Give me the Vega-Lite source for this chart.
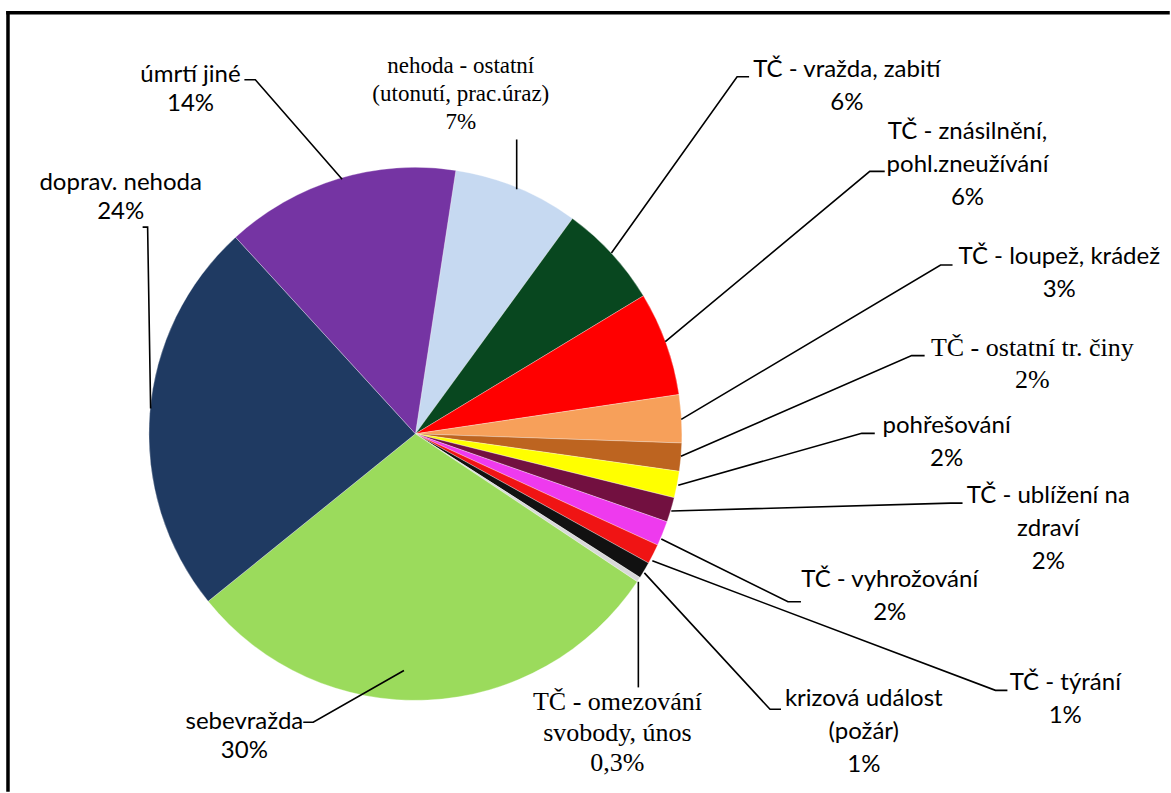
{
  "$schema": "https://vega.github.io/schema/vega-lite/v6.json",
  "autosize": {"type": "fit", "contains": "padding"},
  "width": 1171,
  "height": 793,
  "padding": 0,
  "background": "#ffffff",
  "config": {"view": {"stroke": null}},
  "datasets": {
    "podily": [
      {"kategorie": "nehoda - ostatní (utonutí, prac.úraz)", "podil": 7.6, "poradi": 1},
      {"kategorie": "TČ - vražda, zabití", "podil": 6.3, "poradi": 2},
      {"kategorie": "TČ - znásilnění, pohl.zneužívání", "podil": 6.3, "poradi": 3},
      {"kategorie": "TČ - loupež, krádež", "podil": 2.9, "poradi": 4},
      {"kategorie": "TČ - ostatní tr. činy", "podil": 1.7, "poradi": 5},
      {"kategorie": "pohřešování", "podil": 1.6, "poradi": 6},
      {"kategorie": "TČ - ublížení na zdraví", "podil": 1.5, "poradi": 7},
      {"kategorie": "TČ - vyhrožování", "podil": 1.5, "poradi": 8},
      {"kategorie": "TČ - týrání", "podil": 1.2, "poradi": 9},
      {"kategorie": "krizová událost (požár)", "podil": 1.0, "poradi": 10},
      {"kategorie": "TČ - omezování svobody, únos", "podil": 0.3, "poradi": 11},
      {"kategorie": "sebevražda", "podil": 29.8, "poradi": 12},
      {"kategorie": "doprav. nehoda", "podil": 24.0, "poradi": 13},
      {"kategorie": "úmrtí jiné", "podil": 14.2, "poradi": 14}
    ],
    "popisky": [
      {"kategorie": "úmrtí jiné", "popisek": "úmrtí jiné\n14%", "lx": -84.62, "ly": 135.27},
      {"kategorie": "nehoda - ostatní (utonutí, prac.úraz)", "popisek": "nehoda - ostatní\n(utonutí, prac.úraz)\n7%", "lx": 17.07, "ly": 138.65},
      {"kategorie": "TČ - vražda, zabití", "popisek": "TČ - vražda, zabití\n6%", "lx": 162.29, "ly": 137.15},
      {"kategorie": "TČ - znásilnění, pohl.zneužívání", "popisek": "TČ - znásilnění,\npohl.zneužívání\n6%", "lx": 207.69, "ly": 113.51},
      {"kategorie": "TČ - loupež, krádež", "popisek": "TČ - loupež, krádež\n3%", "lx": 242.21, "ly": 66.6},
      {"kategorie": "TČ - ostatní tr. činy", "popisek": "TČ - ostatní tr. činy\n2%", "lx": 232.08, "ly": 32.35},
      {"kategorie": "pohřešování", "popisek": "pohřešování\n2%", "lx": 199.81, "ly": 3.08},
      {"kategorie": "TČ - ublížení na zdraví", "popisek": "TČ - ublížení na\nzdraví\n2%", "lx": 238.09, "ly": -23.34},
      {"kategorie": "TČ - vyhrožování", "popisek": "TČ - vyhrožování\n2%", "lx": 178.42, "ly": -54.97},
      {"kategorie": "TČ - týrání", "popisek": "TČ - týrání\n1%", "lx": 244.47, "ly": -94.0},
      {"kategorie": "krizová událost (požár)", "popisek": "krizová událost\n(požár)\n1%", "lx": 168.67, "ly": -100.0},
      {"kategorie": "TČ - omezování svobody, únos", "popisek": "TČ - omezování\nsvobody, únos\n0,3%", "lx": 75.99, "ly": -101.13},
      {"kategorie": "sebevražda", "popisek": "sebevražda\n30%", "lx": -64.35, "ly": -108.63},
      {"kategorie": "doprav. nehoda", "popisek": "doprav. nehoda\n24%", "lx": -110.88, "ly": 94.37}
    ],
    "vodici": [
      {"kategorie": "úmrtí jiné", "bod": 1, "lx": -27.58, "ly": 95.87},
      {"kategorie": "úmrtí jiné", "bod": 2, "lx": -60.23, "ly": 133.4},
      {"kategorie": "úmrtí jiné", "bod": 3, "lx": -64.35, "ly": 133.4},
      {"kategorie": "nehoda - ostatní", "bod": 1, "lx": 38.09, "ly": 92.12},
      {"kategorie": "nehoda - ostatní", "bod": 2, "lx": 38.09, "ly": 110.88},
      {"kategorie": "TČ - vražda", "bod": 1, "lx": 73.73, "ly": 68.1},
      {"kategorie": "TČ - vražda", "bod": 2, "lx": 121.01, "ly": 134.52},
      {"kategorie": "TČ - vražda", "bod": 3, "lx": 125.52, "ly": 134.52},
      {"kategorie": "TČ - znásilnění", "bod": 1, "lx": 94.0, "ly": 34.71},
      {"kategorie": "TČ - znásilnění", "bod": 2, "lx": 170.92, "ly": 98.87},
      {"kategorie": "TČ - znásilnění", "bod": 3, "lx": 176.55, "ly": 98.87},
      {"kategorie": "TČ - loupež", "bod": 1, "lx": 100.0, "ly": 5.44},
      {"kategorie": "TČ - loupež", "bod": 2, "lx": 197.56, "ly": 63.6},
      {"kategorie": "TČ - loupež", "bod": 3, "lx": 202.06, "ly": 63.6},
      {"kategorie": "TČ - ostatní tr. činy", "bod": 1, "lx": 99.89, "ly": -8.44},
      {"kategorie": "TČ - ostatní tr. činy", "bod": 2, "lx": 186.68, "ly": 29.46},
      {"kategorie": "TČ - ostatní tr. činy", "bod": 3, "lx": 191.56, "ly": 29.46},
      {"kategorie": "pohřešování", "bod": 1, "lx": 98.87, "ly": -19.32},
      {"kategorie": "pohřešování", "bod": 2, "lx": 167.92, "ly": 0.19},
      {"kategorie": "pohřešování", "bod": 3, "lx": 172.8, "ly": 0.19},
      {"kategorie": "TČ - ublížení", "bod": 1, "lx": 96.25, "ly": -29.08},
      {"kategorie": "TČ - ublížení", "bod": 2, "lx": 201.31, "ly": -26.08},
      {"kategorie": "TČ - ublížení", "bod": 3, "lx": 205.82, "ly": -26.08},
      {"kategorie": "TČ - vyhrožování", "bod": 1, "lx": 92.49, "ly": -39.59},
      {"kategorie": "TČ - vyhrožování", "bod": 2, "lx": 140.15, "ly": -63.23},
      {"kategorie": "TČ - vyhrožování", "bod": 3, "lx": 145.03, "ly": -63.23},
      {"kategorie": "TČ - týrání", "bod": 1, "lx": 89.12, "ly": -47.84},
      {"kategorie": "TČ - týrání", "bod": 2, "lx": 218.2, "ly": -96.62},
      {"kategorie": "TČ - týrání", "bod": 3, "lx": 222.7, "ly": -96.62},
      {"kategorie": "krizová událost", "bod": 1, "lx": 86.12, "ly": -52.35},
      {"kategorie": "krizová událost", "bod": 2, "lx": 133.4, "ly": -103.75},
      {"kategorie": "krizová událost", "bod": 3, "lx": 137.52, "ly": -103.75},
      {"kategorie": "TČ - omezování", "bod": 1, "lx": 83.86, "ly": -55.72},
      {"kategorie": "TČ - omezování", "bod": 2, "lx": 83.86, "ly": -95.5},
      {"kategorie": "sebevražda", "bod": 1, "lx": -4.32, "ly": -89.12},
      {"kategorie": "sebevražda", "bod": 2, "lx": -38.46, "ly": -108.63},
      {"kategorie": "sebevražda", "bod": 3, "lx": -42.21, "ly": -108.63},
      {"kategorie": "doprav. nehoda", "bod": 1, "lx": -99.62, "ly": 9.57},
      {"kategorie": "doprav. nehoda", "bod": 2, "lx": -100.75, "ly": 77.86},
      {"kategorie": "doprav. nehoda", "bod": 3, "lx": -102.63, "ly": 77.86}
    ]
  },
  "layer": [
    {
      "data": {"name": "podily"},
      "mark": {"type": "arc", "outerRadius": 266.5, "stroke": "#ffffff", "strokeWidth": 0.6, "strokeOpacity": 0.5},
      "encoding": {
        "x": {"datum": 0, "type": "quantitative", "scale": {"domain": [-156.285, 283.114], "nice": false, "zero": false}, "axis": null},
        "y": {"datum": 0, "type": "quantitative", "scale": {"domain": [-134.146, 163.415], "nice": false, "zero": false}, "axis": null},
        "theta": {"field": "podil", "type": "quantitative", "stack": true, "scale": {"range": [0.1522, 6.4354]}},
        "order": {"field": "poradi", "type": "quantitative"},
        "color": {
          "field": "kategorie",
          "type": "nominal",
          "legend": null,
          "scale": {
            "domain": ["nehoda - ostatní (utonutí, prac.úraz)", "TČ - vražda, zabití", "TČ - znásilnění, pohl.zneužívání", "TČ - loupež, krádež", "TČ - ostatní tr. činy", "pohřešování", "TČ - ublížení na zdraví", "TČ - vyhrožování", "TČ - týrání", "krizová událost (požár)", "TČ - omezování svobody, únos", "sebevražda", "doprav. nehoda", "úmrtí jiné"],
            "range": ["#c6d9f1", "#08471f", "#ff0000", "#f7a05a", "#bd6420", "#ffff00", "#721040", "#ee3aee", "#f01414", "#111111", "#d9d9d9", "#9bdb5c", "#1f3a62", "#7534a3"]
          }
        }
      }
    },
    {
      "data": {"name": "vodici"},
      "mark": {"type": "line", "color": "#000000", "strokeWidth": 1.6},
      "encoding": {
        "x": {"field": "lx", "type": "quantitative"},
        "y": {"field": "ly", "type": "quantitative"},
        "detail": {"field": "kategorie"},
        "order": {"field": "bod", "type": "quantitative"}
      }
    },
    {
      "data": {"name": "popisky"},
      "transform": [{"filter": {"field": "kategorie", "oneOf": ["úmrtí jiné", "doprav. nehoda", "sebevražda"]}}],
      "mark": {"type": "text", "font": "Lato", "fontSize": 24, "lineHeight": 29, "lineBreak": "\n", "align": "center", "baseline": "middle", "color": "#000000"},
      "encoding": {
        "x": {"field": "lx", "type": "quantitative"},
        "y": {"field": "ly", "type": "quantitative"},
        "text": {"field": "popisek"}
      }
    },
    {
      "data": {"name": "popisky"},
      "transform": [{"filter": {"not": {"field": "kategorie", "oneOf": ["úmrtí jiné", "doprav. nehoda", "sebevražda", "nehoda - ostatní (utonutí, prac.úraz)", "TČ - ostatní tr. činy", "TČ - omezování svobody, únos"]}}}],
      "mark": {"type": "text", "font": "Lato", "fontSize": 24, "lineHeight": 33, "lineBreak": "\n", "align": "center", "baseline": "middle", "color": "#000000"},
      "encoding": {
        "x": {"field": "lx", "type": "quantitative"},
        "y": {"field": "ly", "type": "quantitative"},
        "text": {"field": "popisek"}
      }
    },
    {
      "data": {"name": "popisky"},
      "transform": [{"filter": {"field": "kategorie", "equal": "nehoda - ostatní (utonutí, prac.úraz)"}}],
      "mark": {"type": "text", "font": "Liberation Serif", "fontSize": 23, "lineHeight": 28, "lineBreak": "\n", "align": "center", "baseline": "middle", "color": "#000000"},
      "encoding": {
        "x": {"field": "lx", "type": "quantitative"},
        "y": {"field": "ly", "type": "quantitative"},
        "text": {"field": "popisek"}
      }
    },
    {
      "data": {"name": "popisky"},
      "transform": [{"filter": {"field": "kategorie", "equal": "TČ - ostatní tr. činy"}}],
      "mark": {"type": "text", "font": "Liberation Serif", "fontSize": 26, "lineHeight": 32, "lineBreak": "\n", "align": "center", "baseline": "middle", "color": "#000000"},
      "encoding": {
        "x": {"field": "lx", "type": "quantitative"},
        "y": {"field": "ly", "type": "quantitative"},
        "text": {"field": "popisek"}
      }
    },
    {
      "data": {"name": "popisky"},
      "transform": [{"filter": {"field": "kategorie", "equal": "TČ - omezování svobody, únos"}}],
      "mark": {"type": "text", "font": "Liberation Serif", "fontSize": 26, "lineHeight": 30.5, "lineBreak": "\n", "align": "center", "baseline": "middle", "color": "#000000"},
      "encoding": {
        "x": {"field": "lx", "type": "quantitative"},
        "y": {"field": "ly", "type": "quantitative"},
        "text": {"field": "popisek"}
      }
    },
    {
      "data": {"values": [{}]},
      "mark": {"type": "rule", "color": "#000000", "strokeWidth": 3.5, "strokeCap": "square"},
      "encoding": {
        "x": {"datum": -153.28, "type": "quantitative"},
        "y": {"datum": 158.65, "type": "quantitative"},
        "y2": {"datum": -134.146}
      }
    },
    {
      "data": {"values": [{}]},
      "mark": {"type": "rule", "color": "#000000", "strokeWidth": 3.5, "strokeCap": "square"},
      "encoding": {
        "y": {"datum": 158.65, "type": "quantitative"},
        "x": {"datum": -153.28, "type": "quantitative"},
        "x2": {"datum": 283.114}
      }
    }
  ]
}
